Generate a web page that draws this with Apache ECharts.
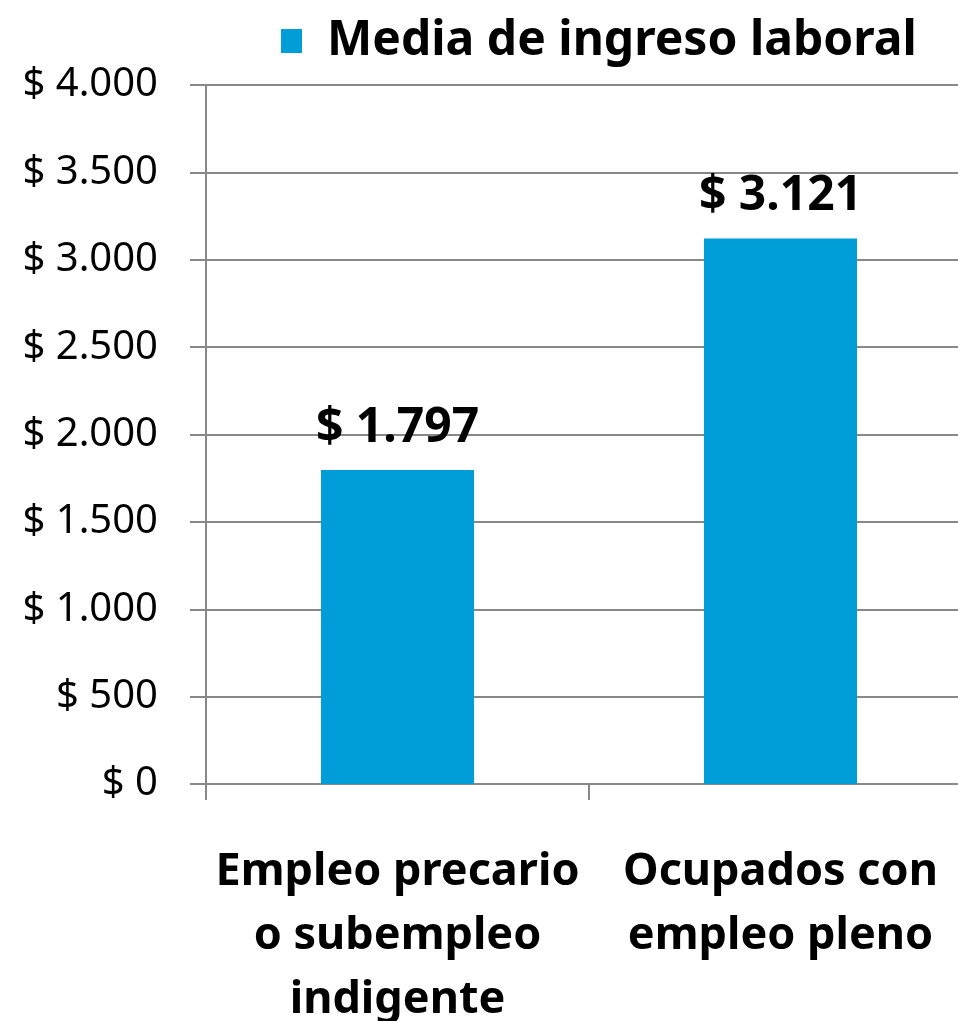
<!DOCTYPE html>
<html>
<head>
<meta charset="utf-8">
<script src="https://cdn.jsdelivr.net/npm/echarts@6/dist/echarts.min.js"></script>
<style>
  html, body { margin: 0; padding: 0; background: #fff; }
  #chart { width: 958px; height: 1021px; }
</style>
</head>
<body>
<div id="chart"></div>
<script>
var categories = ['Empleo precario\no subempleo\nindigente', 'Ocupados con\nempleo pleno'];
var ingreso = [1797, 3121];
var seriesName = 'Media de ingreso laboral';

function pesos(v) {
  // separador de miles con punto
  return '$ ' + String(v).replace(/\B(?=(\d{3})+(?!\d))/g, '.');
}

var chart = echarts.init(document.getElementById('chart'));
var option = {
  animation: false,
  textStyle: { fontFamily: 'Noto Sans' },
  legend: {
    data: [seriesName],
    icon: 'rect',
    left: 276,
    top: 12,
    itemWidth: 21,
    itemHeight: 24,
    itemGap: 10,
    textStyle: { fontSize: 48, fontWeight: 'bold', color: '#000', fontFamily: 'Noto Sans', padding: [0, 0, 0, 20] }
  },
  grid: {
    left: 206,
    width: 766,
    top: 85,
    bottom: 237,
    outerBoundsMode: 'none'
  },
  xAxis: {
    type: 'category',
    data: categories,
    axisLine: { lineStyle: { color: '#888', width: 2 } },
    axisTick: { show: true, length: 16, lineStyle: { color: '#888', width: 2 } },
    axisLabel: {
      interval: 0,
      margin: 56,
      fontSize: 45,
      fontWeight: 'bold',
      color: '#000',
      lineHeight: 64
    }
  },
  yAxis: {
    type: 'value',
    min: 0,
    max: 4000,
    interval: 500,
    axisLine: { show: true, lineStyle: { color: '#888', width: 2 } },
    axisTick: { show: true, length: 16, lineStyle: { color: '#888', width: 2 } },
    splitLine: { lineStyle: { color: '#888', width: 2 } },
    axisLabel: {
      margin: 48,
      fontSize: 40,
      color: '#000',
      formatter: pesos
    }
  },
  series: [
    {
      name: seriesName,
      type: 'bar',
      data: ingreso,
      barWidth: 153,
      itemStyle: { color: '#009ED9' },
      label: {
        show: true,
        position: 'top',
        distance: 18,
        fontSize: 48,
        fontWeight: 'bold',
        color: '#000',
        formatter: function (p) { return pesos(p.value); }
      }
    }
  ]
};
chart.setOption(option);
</script>
</body>
</html>
